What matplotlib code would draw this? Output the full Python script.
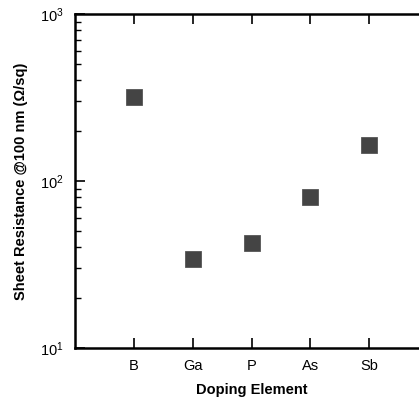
import numpy as np
import matplotlib
matplotlib.use('Agg')
import matplotlib.pyplot as plt

plt.rcParams['font.family'] = ['Liberation Sans', 'DejaVu Sans']

elements = ['B', 'Ga', 'P', 'As', 'Sb']
resistance = [318, 34, 42.5, 80, 164]

fig = plt.figure(figsize=(4.19, 4.05), dpi=100)
# axes runs past the right edge of the figure, as in the original crop
ax = fig.add_axes([75/419, 1-348/405, (428-75)/419, (348-14)/405])

x = np.arange(1, len(elements)+1)
ax.plot(x, resistance, 's', color='#444444', markersize=11.5,
        markeredgecolor='#555555', markeredgewidth=0.6)

ax.set_yscale('log')
ax.set_ylim(10, 1000)
ax.set_xlim(0, 6)
ax.set_xticks(x)
ax.set_xticklabels(elements)

for s in ax.spines.values():
    s.set_linewidth(1.8)
ax.tick_params(axis='both', which='major', direction='in', length=7, width=1.2,
               top=True, right=False, labelsize=10.5, pad=8)
ax.tick_params(axis='y', which='minor', direction='in', length=4.5, width=1.0, right=False)

ax.set_xlabel('Doping Element', fontsize=10.5, fontweight='bold', labelpad=7)
ax.set_ylabel('Sheet Resistance @100 nm (Ω/sq)', fontsize=10.5, fontweight='bold', labelpad=9)

fig.savefig('out.png', dpi=100)
